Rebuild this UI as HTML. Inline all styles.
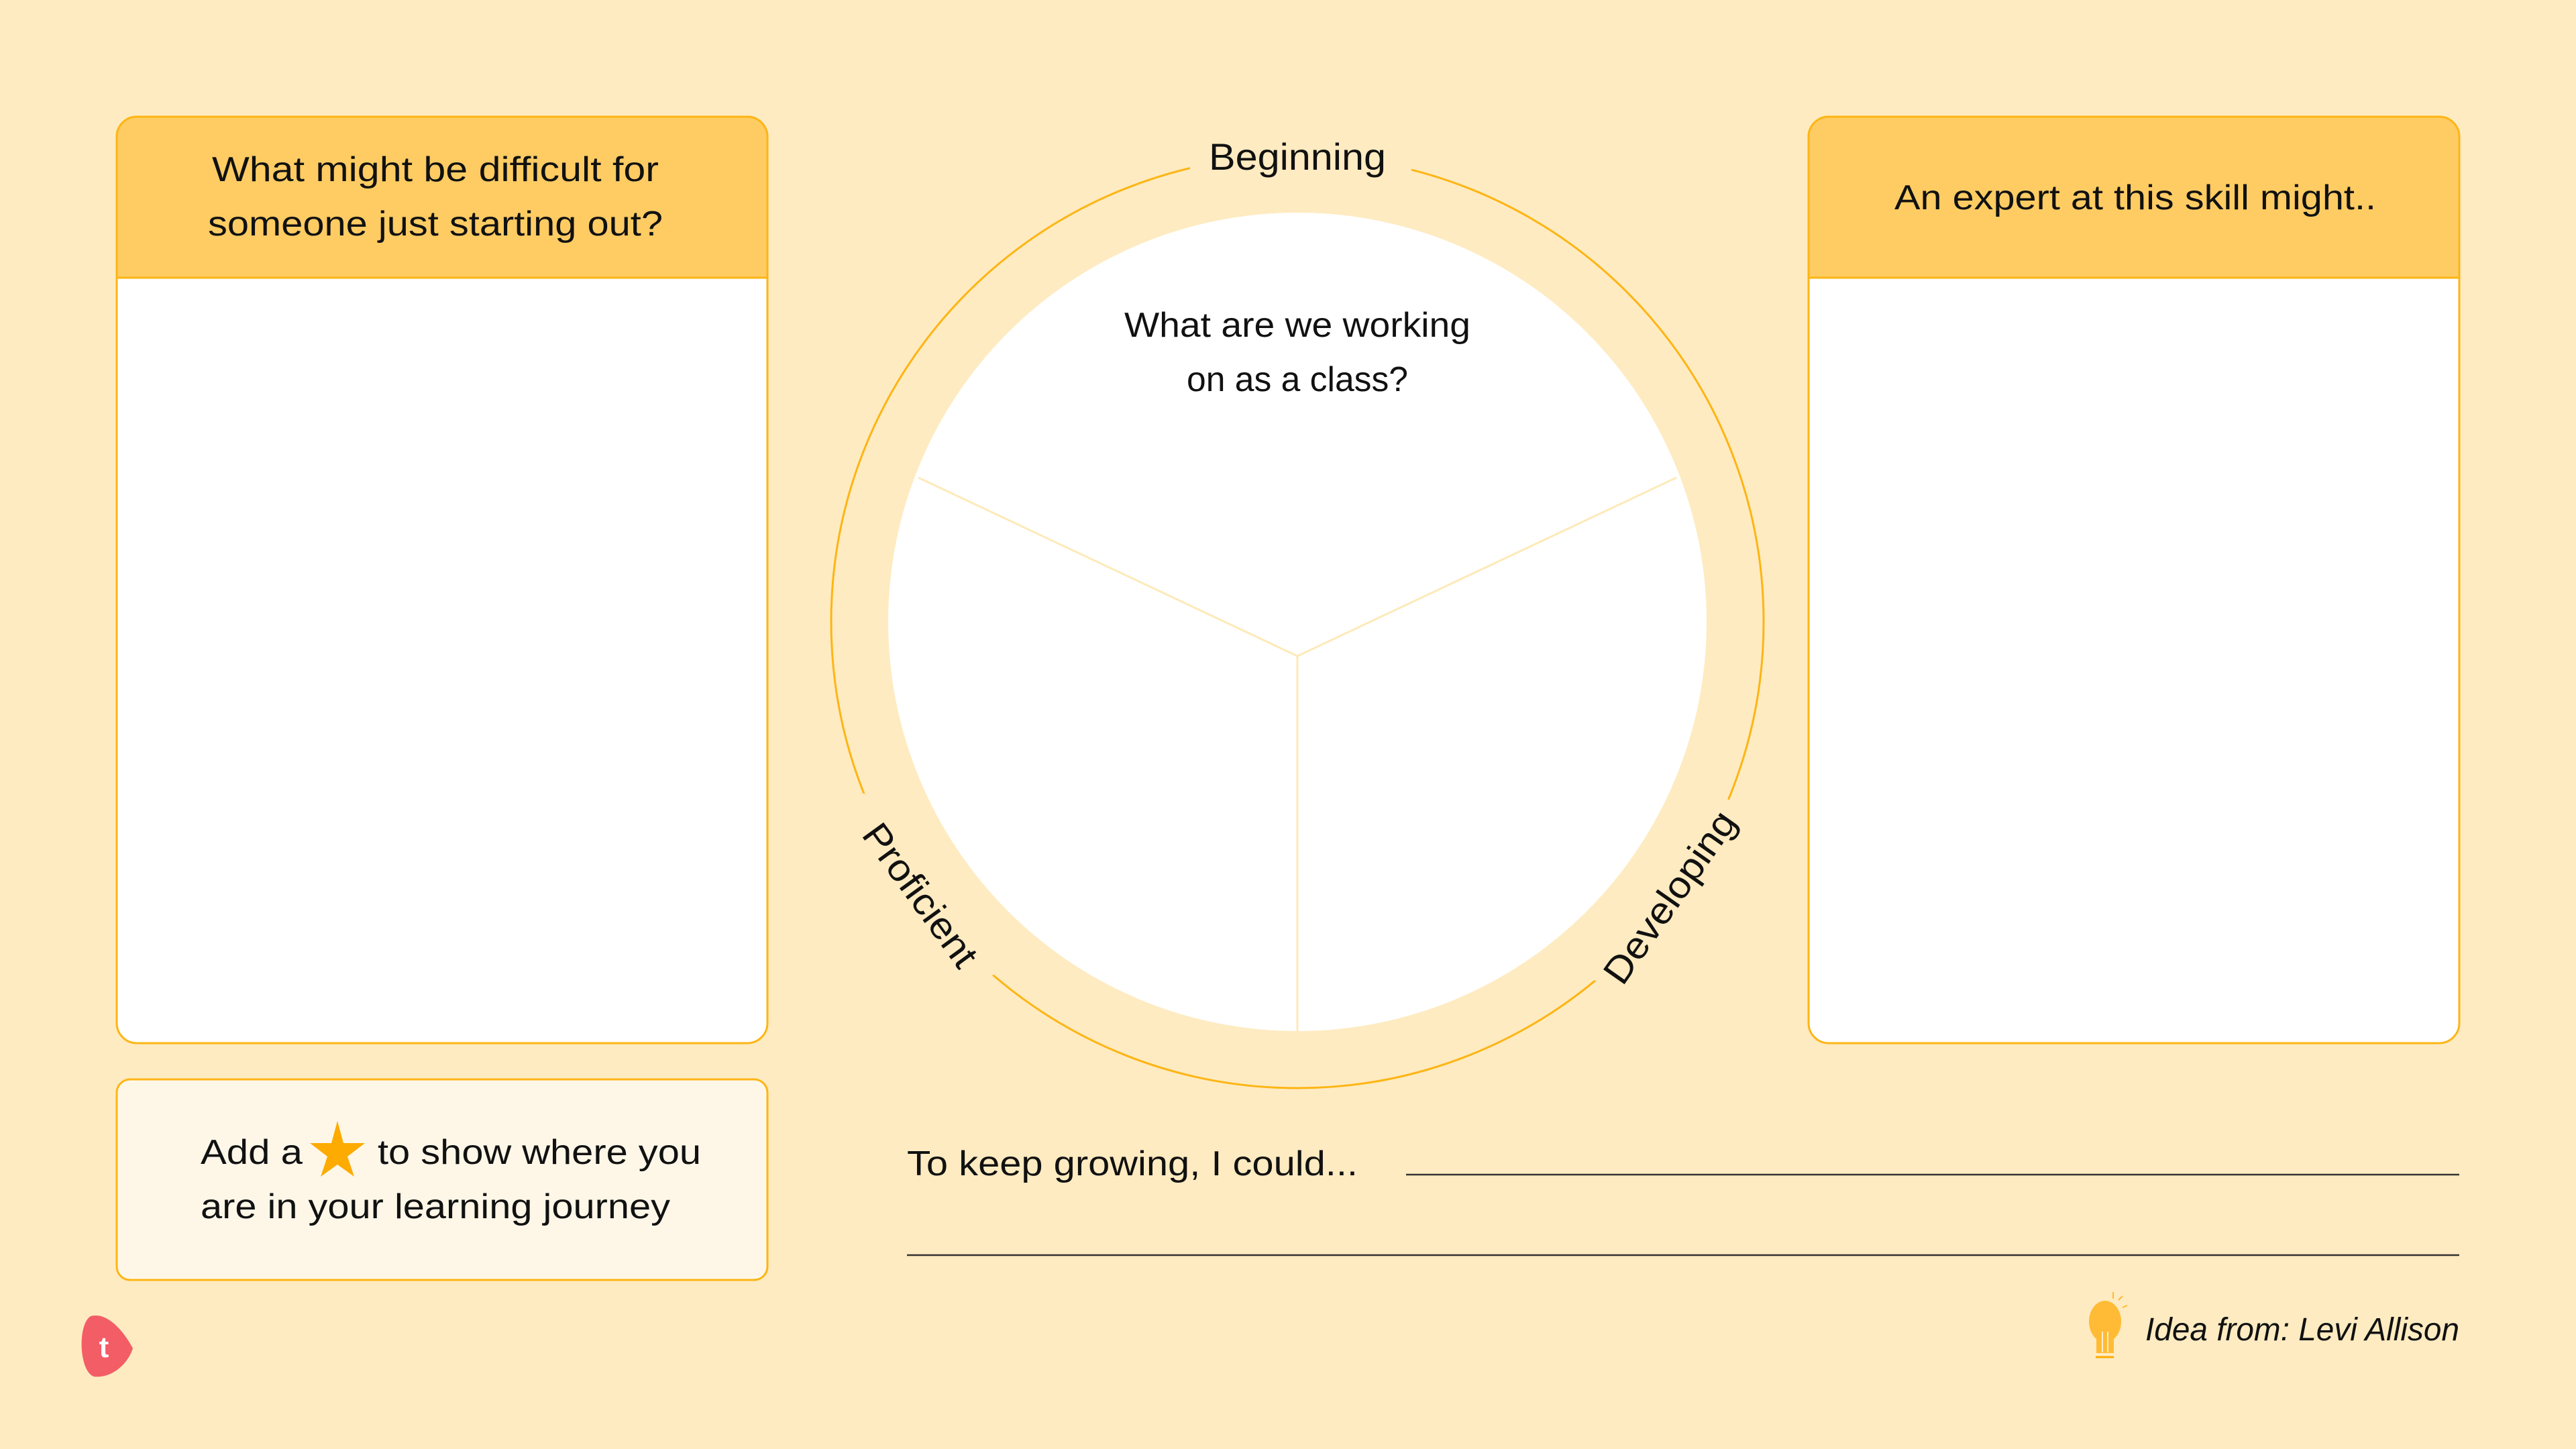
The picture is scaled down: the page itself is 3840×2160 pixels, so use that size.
<!DOCTYPE html>
<html><head><meta charset="utf-8"><style>
html,body{margin:0;padding:0;background:#feebc1;}
svg{display:block}
text{font-family:"Liberation Sans",sans-serif;fill:#111;}
</style></head><body>
<svg width="3840" height="2160" viewBox="0 0 3840 2160" xmlns="http://www.w3.org/2000/svg">
<rect width="3840" height="2160" fill="#feebc1"/>
<!-- left box -->
<rect x="174" y="174" width="970" height="1381" rx="30" fill="#fff" stroke="#fdb515" stroke-width="3"/>
<path d="M174 414 V204 a30 30 0 0 1 30 -30 H1114 a30 30 0 0 1 30 30 V414 Z" fill="#fecc63" stroke="#fdb515" stroke-width="3"/>
<text x="649" y="270" font-size="52" text-anchor="middle" textLength="666" lengthAdjust="spacingAndGlyphs">What might be difficult for</text>
<text x="649" y="351" font-size="52" text-anchor="middle" textLength="678" lengthAdjust="spacingAndGlyphs">someone just starting out?</text>
<!-- right box -->
<rect x="2696" y="174" width="970" height="1381" rx="30" fill="#fff" stroke="#fdb515" stroke-width="3"/>
<path d="M2696 414 V204 a30 30 0 0 1 30 -30 H3636 a30 30 0 0 1 30 30 V414 Z" fill="#fecc63" stroke="#fdb515" stroke-width="3"/>
<text x="3183" y="312" font-size="52" text-anchor="middle" textLength="718" lengthAdjust="spacingAndGlyphs">An expert at this skill might..</text>
<!-- small box -->
<rect x="174" y="1609" width="970" height="299" rx="20" fill="#fef7e8" stroke="#fdb515" stroke-width="3"/>
<text x="299" y="1735" font-size="52" textLength="152" lengthAdjust="spacingAndGlyphs">Add a</text>
<polygon points="503,1671 512,1704 544,1704 518,1724 528,1754 503,1736 478,1754 488,1724 462,1704 494,1704" fill="#fdab00"/>
<text x="563" y="1735" font-size="52" textLength="482" lengthAdjust="spacingAndGlyphs">to show where you</text>
<text x="299" y="1816" font-size="52" textLength="700" lengthAdjust="spacingAndGlyphs">are in your learning journey</text>
<!-- circle -->
<circle cx="1934" cy="927" r="695" fill="none" stroke="#fdb515" stroke-width="3"/>
<rect x="1774" y="200" width="330" height="70" fill="#feebc1"/>
<path d="M1288,1182 L1482,1453 L1330,1500 L1200,1250 Z" fill="#feebc1"/>
<path d="M2575,1191 L2375,1461 L2530,1500 L2680,1250 Z" fill="#feebc1"/>
<circle cx="1934" cy="927" r="610" fill="#fff"/>
<g stroke="#fdeab9" stroke-width="3" fill="none">
<line x1="1934" y1="978" x2="1369" y2="712"/>
<line x1="1934" y1="978" x2="2499" y2="712"/>
<line x1="1934" y1="978" x2="1934" y2="1537"/>
</g>
<text x="1934" y="253" font-size="56" text-anchor="middle" textLength="264" lengthAdjust="spacingAndGlyphs">Beginning</text>
<text x="1934" y="502" font-size="52" text-anchor="middle" textLength="516" lengthAdjust="spacingAndGlyphs">What are we working</text>
<text x="1934" y="583" font-size="52" text-anchor="middle" textLength="330" lengthAdjust="spacingAndGlyphs">on as a class?</text>
<text transform="translate(1371,1335) rotate(54)" x="0" y="18" font-size="56" text-anchor="middle" textLength="250" lengthAdjust="spacingAndGlyphs">Proficient</text>
<text transform="translate(2490,1338) rotate(-55)" x="0" y="18" font-size="56" text-anchor="middle" textLength="300" lengthAdjust="spacingAndGlyphs">Developing</text>
<!-- bottom -->
<text x="1352" y="1752" font-size="52" textLength="672" lengthAdjust="spacingAndGlyphs">To keep growing, I could...</text>
<line x1="2096" y1="1751" x2="3666" y2="1751" stroke="#333" stroke-width="2.5"/>
<line x1="1352" y1="1871" x2="3666" y2="1871" stroke="#333" stroke-width="2.5"/>
<!-- logo -->
<path d="M135,1962 C160,1955 185,1985 198,2010 C190,2035 165,2055 140,2052 C118,2045 115,1975 135,1962 Z" fill="#f35d66"/>
<text x="155" y="2023" font-size="44" font-weight="bold" text-anchor="middle" style="fill:#fff">t</text>
<!-- bulb -->
<ellipse cx="3138" cy="1970" rx="24" ry="31" fill="#ffbb35"/>
<rect x="3125" y="1985" width="26" height="32" fill="#ffbb35"/>
<g stroke="#fff" stroke-width="1.5" fill="none"><line x1="3134" y1="1985" x2="3134" y2="2016"/><line x1="3142" y1="1985" x2="3142" y2="2016"/></g>
<line x1="3124" y1="2023" x2="3151" y2="2023" stroke="#fdab00" stroke-width="3"/>
<g stroke="#fdbb30" stroke-width="2"><line x1="3150" y1="1926" x2="3150" y2="1936"/><line x1="3158" y1="1938" x2="3164" y2="1932"/><line x1="3164" y1="1949" x2="3171" y2="1946"/></g>
<text x="3666" y="1998" font-size="48" font-style="italic" text-anchor="end" textLength="468" lengthAdjust="spacingAndGlyphs">Idea from: Levi Allison</text>
</svg>
</body></html>
